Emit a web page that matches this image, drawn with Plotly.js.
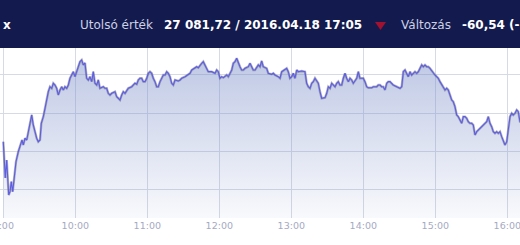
<!DOCTYPE html>
<html>
<head>
<meta charset="utf-8">
<script src="https://cdn.plot.ly/plotly-3.0.1.min.js"></script>
<style>html,body{margin:0;padding:0;background:#fff;}#chart{width:520px;height:245px;}</style>
</head>
<body>
<div id="chart"></div>
<script>
const tradeDate = "2016-04-18";
const times = [
"09:00:00","09:01:10","09:01:40","09:02:50","09:03:20","09:04:30","09:05:35","09:06:40","09:07:50","09:08:55",
"09:10:35","09:12:30","09:14:30","09:15:35","09:16:40","09:18:05","09:19:30","09:20:50","09:22:15","09:23:40",
"09:25:00","09:26:25","09:27:50","09:29:10","09:30:35","09:31:40","09:33:20","09:34:45","09:36:10","09:37:30",
"09:38:55","09:40:20","09:41:40","09:43:05","09:44:30","09:45:50","09:47:15","09:48:40","09:50:00","09:51:25",
"09:52:50","09:54:10","09:55:35","09:57:00","09:58:20","09:59:45","10:01:10","10:02:30","10:03:55","10:05:20",
"10:06:40","10:08:05","10:09:30","10:10:50","10:12:15","10:13:40","10:15:00","10:16:25","10:17:50","10:19:10",
"10:20:35","10:23:20","10:24:45","10:26:10","10:27:30","10:28:55","10:30:20","10:33:05","10:34:30","10:35:50",
"10:37:15","10:38:40","10:40:00","10:41:25","10:42:50","10:44:10","10:47:00","10:48:20","10:49:45","10:51:10",
"10:52:30","10:53:55","10:55:20","10:56:40","10:58:05","10:59:30","11:00:50","11:02:15","11:03:40","11:05:00",
"11:06:25","11:07:50","11:09:10","11:10:35","11:12:00","11:13:20","11:14:45","11:16:10","11:17:30","11:18:55",
"11:20:20","11:21:40","11:23:05","11:25:50","11:27:15","11:28:40","11:31:25","11:34:10","11:35:35","11:37:00",
"11:39:45","11:41:10","11:42:30","11:43:55","11:45:20","11:46:40","11:48:05","11:49:30","11:50:50","11:53:40",
"11:55:00","11:56:25","11:57:50","11:59:10","12:00:35","12:02:00","12:03:20","12:04:45","12:06:10","12:07:30",
"12:08:55","12:10:20","12:11:40","12:13:05","12:14:30","12:15:50","12:17:15","12:18:40","12:20:00","12:21:25",
"12:24:10","12:25:35","12:27:00","12:28:20","12:29:45","12:31:10","12:32:30","12:33:55","12:35:20","12:36:40",
"12:39:30","12:40:50","12:43:40","12:45:00","12:46:25","12:49:10","12:50:35","12:52:00","12:54:45","12:56:10",
"12:57:30","12:58:55","13:00:20","13:01:40","13:03:05","13:04:30","13:05:50","13:08:40","13:11:25","13:12:50",
"13:14:10","13:15:35","13:17:00","13:18:20","13:19:45","13:21:10","13:22:30","13:23:55","13:25:20","13:28:05",
"13:29:30","13:30:50","13:32:15","13:33:40","13:35:00","13:36:25","13:37:50","13:39:10","13:40:35","13:42:00",
"13:43:20","13:44:45","13:46:10","13:47:30","13:48:55","13:50:20","13:51:40","13:53:05","13:54:30","13:55:50",
"13:57:15","14:00:00","14:01:25","14:02:50","14:04:10","14:07:00","14:08:20","14:11:10","14:12:30","14:13:55",
"14:15:20","14:16:40","14:18:05","14:19:30","14:20:50","14:22:15","14:23:40","14:25:00","14:27:50","14:30:35",
"14:32:00","14:33:20","14:34:45","14:36:10","14:37:30","14:38:55","14:40:20","14:41:40","14:43:05","14:44:30",
"14:45:50","14:47:15","14:48:40","14:50:00","14:51:25","14:52:50","14:54:10","14:55:35","14:57:00","14:58:20",
"14:59:45","15:01:10","15:02:30","15:03:55","15:05:20","15:06:40","15:08:05","15:09:30","15:10:50","15:12:15",
"15:13:40","15:15:00","15:16:25","15:17:50","15:19:10","15:20:35","15:22:00","15:23:20","15:24:45","15:26:10",
"15:27:30","15:28:55","15:30:20","15:31:40","15:33:05","15:34:30","15:35:50","15:37:15","15:38:40","15:40:00",
"15:41:25","15:42:50","15:44:10","15:45:35","15:47:00","15:48:20","15:49:45","15:51:10","15:52:30","15:53:55",
"15:55:20","15:56:40","15:58:05","15:59:30","16:00:50","16:02:15","16:03:40","16:05:00","16:06:25","16:07:50",
"16:09:10","16:10:35","16:15:00"
];
const values = [
27062.9,27023.8,27015.5,27039.0,27023.8,26993.3,26997.6,27010.7,26997.6,27015.1,
27036.8,27049.9,27060.8,27065.1,27058.6,27067.4,27065.1,27076.0,27086.9,27097.8,
27084.7,27073.9,27067.4,27062.9,27065.1,27086.9,27095.6,27106.5,27119.6,27128.2,
27134.7,27132.6,27139.2,27136.9,27132.6,27123.9,27130.4,27134.7,27130.4,27134.7,
27132.6,27136.9,27145.7,27150.0,27154.3,27147.8,27156.5,27160.8,27167.4,27169.6,
27163.1,27165.7,27145.7,27143.5,27147.8,27141.3,27154.3,27139.2,27136.9,27143.5,
27132.6,27134.7,27132.6,27132.6,27126.1,27123.9,27126.1,27128.2,27121.7,27119.6,
27117.4,27123.9,27128.2,27126.1,27130.4,27132.6,27134.7,27136.9,27139.2,27137.9,
27143.5,27145.7,27145.7,27141.3,27141.3,27145.7,27152.2,27154.3,27152.2,27145.7,
27141.3,27134.7,27134.7,27141.3,27145.7,27150.0,27150.0,27154.3,27152.2,27147.8,
27139.2,27136.9,27143.5,27142.2,27143.5,27145.7,27147.8,27150.0,27152.2,27156.5,
27158.7,27160.8,27159.5,27163.1,27165.3,27167.4,27163.1,27158.7,27154.3,27154.3,
27153.5,27152.2,27156.5,27154.3,27145.7,27147.8,27146.5,27147.8,27150.0,27147.8,
27152.2,27156.5,27165.3,27167.4,27171.8,27165.3,27160.8,27156.5,27156.5,27158.7,
27160.8,27165.3,27160.8,27156.5,27156.5,27160.8,27163.1,27160.8,27168.3,27160.8,
27158.7,27152.2,27150.9,27152.2,27150.0,27147.8,27145.7,27154.3,27156.5,27158.7,
27154.3,27145.7,27147.8,27152.2,27145.7,27156.5,27154.3,27155.2,27154.3,27139.2,
27134.7,27132.6,27139.2,27141.3,27145.7,27141.3,27139.2,27128.2,27119.6,27120.4,
27126.1,27134.7,27132.6,27139.2,27136.9,27134.7,27139.2,27141.3,27136.9,27136.9,
27145.7,27152.2,27145.7,27141.3,27145.7,27143.5,27139.2,27143.5,27145.7,27154.3,
27145.7,27145.7,27141.3,27134.7,27133.4,27133.4,27134.7,27134.7,27136.9,27136.9,
27134.7,27134.7,27130.4,27139.2,27141.3,27141.3,27139.2,27136.9,27134.7,27132.6,
27134.7,27154.3,27156.5,27152.2,27147.8,27154.3,27150.0,27152.2,27154.3,27152.2,
27154.3,27158.7,27163.1,27160.8,27163.1,27160.8,27160.8,27158.7,27155.2,27152.2,
27150.0,27147.8,27145.7,27141.3,27136.9,27134.7,27130.4,27132.6,27130.4,27123.9,
27117.4,27115.1,27108.6,27097.8,27095.6,27091.3,27086.9,27095.6,27095.6,27093.5,
27089.0,27086.9,27086.9,27084.7,27071.7,27076.0,27078.2,27080.4,27082.5,27084.7,
27086.9,27089.0,27095.6,27086.9,27082.5,27076.0,27073.9,27076.0,27073.9,27076.0,
27069.5,27062.9,27058.6,27062.9,27076.0,27095.6,27100.0,27097.8,27100.0,27104.3,
27102.1,27089.0,27085.0
];
const tickTimes = ["09:00","10:00","11:00","12:00","13:00","14:00","15:00","16:00"];
const tickLabels = ["9:00","10:00","11:00","12:00","13:00","14:00","15:00","16:00"];
const gridValues = [27000, 27050, 27100, 27150];
const viewStart = "08:57:15", viewEnd = "16:10:35";
const yMin = 26963.3, yMax = 27185.2;
const headerLabels = ["x", "Utolsó érték", "27 081,72 / 2016.04.18 17:05", "Változás", "-60,54 (-"];

const x = times.map(t => tradeDate + " " + t);

const fillTrace = {
  x: x, y: values, type: "scatter", mode: "lines",
  line: {width: 0, color: "rgba(0,0,0,0)"},
  fill: "tozeroy",
  fillgradient: {type: "vertical", start: yMin, stop: yMax,
    colorscale: [[0, "rgba(120,140,200,0.05)"], [1, "rgba(120,140,200,0.5)"]]},
  hoverinfo: "skip", showlegend: false
};
const shadowTrace = {
  x: x, y: values, type: "scatter", mode: "lines",
  line: {width: 2.4, color: "rgba(120,120,140,0.55)"},
  hoverinfo: "skip", showlegend: false
};
const lineTrace = {
  x: x, y: values, type: "scatter", mode: "lines",
  line: {width: 1.1, color: "#5c5ce6"},
  showlegend: false
};

const plotH = 245 - 48 - 27;
const py = px => (218 - px) / plotH;
const header = (txt, px, bold, color) => ({
  text: bold ? "<b>" + txt + "</b>" : txt,
  xref: "paper", yref: "paper", x: px / 520, y: py(25),
  xanchor: "left", yanchor: "middle", showarrow: false,
  font: {family: "DejaVu Sans", size: 12, color: color}
});

const layout = {
  width: 520, height: 245,
  margin: {l: 0, r: 0, t: 48, b: 27, pad: 0},
  paper_bgcolor: "#ffffff", plot_bgcolor: "#ffffff",
  xaxis: {
    type: "date",
    range: [tradeDate + " " + viewStart, tradeDate + " " + viewEnd],
    tickvals: tickTimes.map(t => tradeDate + " " + t),
    ticktext: tickLabels,
    ticklabeloverflow: "allow",
    showgrid: true, gridcolor: "#d6dae6", gridwidth: 1,
    zeroline: false, showline: false, ticks: "",
    tickfont: {family: "DejaVu Sans", size: 9.5, color: "#a6a9c2"},
    fixedrange: true
  },
  yaxis: {
    range: [yMin, yMax],
    tickvals: gridValues,
    showticklabels: false,
    showgrid: true, gridcolor: "#d6dae6", gridwidth: 1,
    zeroline: false, showline: false, ticks: "",
    fixedrange: true
  },
  shapes: [
    {type: "rect", xref: "paper", yref: "paper", x0: 0, x1: 1, y0: 1, y1: py(0),
     fillcolor: "#131b4e", line: {width: 0}, layer: "above"},
    {type: "path", xref: "paper", yref: "paper",
     path: "M " + (375/520) + "," + py(22) + " L " + (386/520) + "," + py(22) + " L " + (380.5/520) + "," + py(30) + " Z",
     fillcolor: "#a0122f", line: {width: 0}, layer: "above"}
  ],
  annotations: [
    header(headerLabels[0], 1, true, "#ffffff"),
    header(headerLabels[1], 78, false, "#cdd1e4"),
    header(headerLabels[2], 161.5, true, "#ffffff"),
    header(headerLabels[3], 399, false, "#cdd1e4"),
    header(headerLabels[4], 459.5, true, "#ffffff")
  ]
};

Plotly.newPlot("chart", [fillTrace, shadowTrace, lineTrace], layout, {staticPlot: true, displayModeBar: false});
</script>
</body>
</html>
